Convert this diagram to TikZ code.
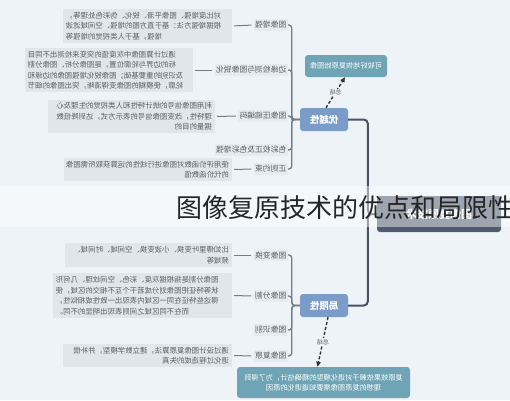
\documentclass[tikz,border=0pt]{standalone}
\usepackage{fontspec}
\setmainfont{Noto Sans CJK SC}
\usetikzlibrary{arrows.meta}
\definecolor{bg}{HTML}{EEF3F8}
\definecolor{rootc}{HTML}{4F5C70}
\definecolor{branchc}{HTML}{7B9CC8}
\definecolor{summc}{HTML}{6EA4B6}
\definecolor{leafbg}{HTML}{E1E6EC}
\definecolor{labbg}{HTML}{E6EBF0}
\definecolor{txtc}{HTML}{5A5F66}
\definecolor{mainln}{HTML}{4A5261}
\definecolor{brln}{HTML}{737D8A}
\begin{document}
\begin{tikzpicture}[x=1pt,y=-1pt,
  rootbox/.style={fill=rootc, rounded corners=3pt, minimum width=124, minimum height=36, text=white, font=\fontsize{11}{11}\selectfont\bfseries},
  branch/.style={fill=branchc, rounded corners=3pt, minimum width=48, minimum height=23, text=white, font=\fontsize{9.5}{9.5}\selectfont\bfseries, inner sep=1pt},
  summ/.style={fill=summc, rounded corners=3pt, text=white, font=\fontsize{7.2}{10}\selectfont, align=center, inner sep=3pt},
  lab/.style={fill=labbg, text=txtc, font=\fontsize{7.8}{8}\selectfont, inner xsep=1.5pt, inner ysep=2pt, anchor=west},
  leaf/.style={fill=leafbg, text=txtc, font=\fontsize{7.4}{10.5}\selectfont, inner xsep=3pt, inner ysep=3pt, anchor=west},
  mainline/.style={draw=mainln, line width=2pt, rounded corners=4pt},
  brline/.style={draw=brln, line width=1.3pt, rounded corners=3pt},
  leafline/.style={draw=brln, line width=1pt, shorten <=2pt, shorten >=2pt},
  linkline/.style={draw=black!80, line width=1.4pt, dash pattern=on 3pt off 2pt, -{Triangle[length=5pt,width=4.5pt]}},
  linklab/.style={fill=bg, text=txtc, font=\fontsize{6}{6}\selectfont, inner sep=1pt},
  titletxt/.style={text=black!85, font=\fontsize{26}{26}\selectfont, inner sep=0pt, anchor=west}
]
\fill[bg] (0,0) rectangle (510,400);
\useasboundingbox (0,0) rectangle (510,400);
\begin{scope}[shift={(510,0)}, xscale=-1, transform shape]
  % root and main branches
  \node[rootbox] (root) at (71,214) {图像复原技术};
  \node[branch] (tb) at (186,119.5) {优越性};
  \node[branch] (bb) at (186,305.5) {局限性};
  \draw[mainline] (root.east) -- ++(9,0) |- (tb.west);
  \draw[mainline] (root.east) -- ++(9,0) |- (bb.west);
  % summaries
  \node[summ, minimum width=82, minimum height=22] (ts) at (164,66) {可较好地恢复原始图像};
  \node[summ, minimum width=173, minimum height=31] (bs) at (186.5,382.5) {复原效果依赖于对退化模型的精确估计，为了得到\\理想的复原图像需要知道退化的原因};
  \draw[linkline] ([xshift=-2pt]tb.north) -- node[linklab] {总结} ([xshift=1pt]ts.south);
  \draw[linkline] ([xshift=-4pt]bb.south) -- node[linklab] {总结} ([xshift=6pt]bs.north);
  % top children labels
  \node[lab] (t1) at (222,25) {图像增强};
  \node[lab] (t2) at (222,70) {边缘检测与图像锐化};
  \node[lab] (t3) at (222,116) {图像压缩编码};
  \node[lab] (t4) at (222,150) {色彩校正及色彩增强};
  \node[lab] (t5) at (222,169) {正则约束};
  \foreach \c in {t1,t2,t3,t4,t5} \draw[brline] (tb.east) -- ++(8,0) |- (\c.west);
  % top leaves
  \node[leaf, text width=163, align=right] (T1) at (278,26) {对比度增强、图像平滑、锐化、伪彩色处理等，\\根据增强方法：基于直方图的增强、空间域滤波\\增强，基于人类视觉的增强等};
  \node[leaf, text width=162, align=right] (T2) at (317,70) {通过计算图像中灰度值的突变来检测出不同目\\标的边界与轮廓位置，是图像分析、图像分割\\及识别的重要基础；图像锐化增强图像的边缘和\\轮廓，使模糊的图像变得清晰，突出图像的细节};
  \node[leaf, text width=161, align=left] (T3) at (295,116.5) {利用图像信号的统计特性和人类视觉的生理及心\\理特性，改变图像信号的表示方式，达到降低数\\据量的目的};
  \node[leaf, text width=162, align=left] (T5) at (278,169.5) {使用评价函数对图像进行线性的运算获取所需图像\\的代价函数值};
  \draw[leafline] (t1.east) -- (T1.west);
  \draw[leafline] (t2.east) -- (T2.west);
  \draw[leafline] (t3.east) -- (T3.west);
  \draw[leafline] (t5.east) -- (T5.west);
  % bottom children labels
  \node[lab] (b1) at (222,255) {图像变换};
  \node[lab] (b2) at (222,296) {图像分割};
  \node[lab] (b3) at (222,330) {图像识别};
  \node[lab] (b4) at (222,356) {图像复原};
  \foreach \c in {b1,b2,b3,b4} \draw[brline] (bb.east) -- ++(8,0) |- (\c.west);
  % bottom leaves
  \node[leaf, text width=161, align=left] (B1) at (278,255) {比如傅里叶变换、小波变换、空间域、时间域、\\频域等};
  \node[leaf, text width=173, align=right] (B2) at (278,295.5) {图像分割是指根据灰度、彩色、空间纹理、几何形\\状等特征把图像划分成若干个互不相交的区域，使\\得这些特征在同一区域内表现出一致性或相似性，\\而在不同区域之间则表现出明显的不同。};
  \node[leaf, text width=163, align=left] (B4) at (278,355.5) {通过设计图像复原算法，建立数学模型，并补偿\\退化过程造成的失真};
  \draw[leafline] (b1.east) -- (B1.west);
  \draw[leafline] (b2.east) -- (B2.west);
  \draw[leafline] (b4.east) -- (B4.west);
\end{scope}
% title band
\fill[white, opacity=0.45] (0,186) rectangle (510,227);
\node[titletxt] (title) at (176,208) {图像复原技术的优点和局限性};
\end{tikzpicture}
\end{document}
